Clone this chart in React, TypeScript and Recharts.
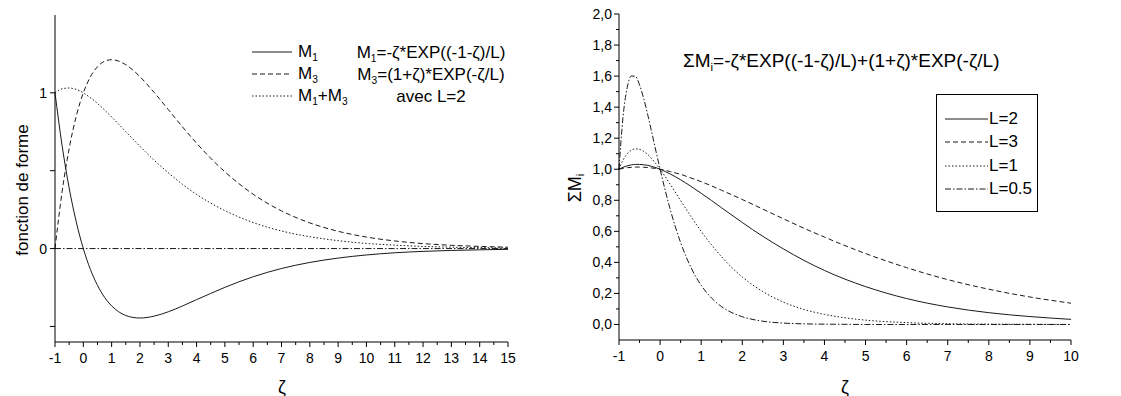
import { LineChart, Line, XAxis, YAxis, ReferenceLine, Legend } from 'recharts';

// left chart: shape functions for L=2
const zetaLeft = [-1, -0.75, -0.5, -0.25, 0, 0.25, 0.5, 0.75, 1, 1.25, 1.5, 1.75, 2, 2.5, 3, 3.5, 4, 4.5, 5, 6, 7, 8, 9, 10, 11, 12, 13, 14, 15];
const m1Values = [1, 0.662, 0.389, 0.172, 0, -0.134, -0.236, -0.313, -0.368, -0.406, -0.43, -0.442, -0.446, -0.434, -0.406, -0.369, -0.328, -0.288, -0.249, -0.181, -0.128, -0.089, -0.061, -0.041, -0.027, -0.018, -0.012, -0.008, -0.005];
const m3Values = [0, 0.364, 0.642, 0.85, 1, 1.103, 1.168, 1.203, 1.213, 1.204, 1.181, 1.147, 1.104, 1.003, 0.893, 0.782, 0.677, 0.58, 0.493, 0.349, 0.242, 0.165, 0.111, 0.074, 0.049, 0.032, 0.021, 0.014, 0.009];
const sumValues = [1, 1.026, 1.031, 1.022, 1, 0.969, 0.932, 0.89, 0.845, 0.799, 0.751, 0.704, 0.657, 0.568, 0.487, 0.413, 0.348, 0.292, 0.244, 0.167, 0.113, 0.076, 0.051, 0.033, 0.022, 0.014, 0.009, 0.006, 0.004];

// right chart: sum of shape functions for several L
const zetaRight = [-1, -0.9, -0.8, -0.7, -0.6, -0.5, -0.4, -0.3, -0.2, -0.1, 0, 0.25, 0.5, 0.75, 1, 1.25, 1.5, 1.75, 2, 2.5, 3, 3.5, 4, 4.5, 5, 6, 7, 8, 9, 10];
const sumL2 = [1, 1.013, 1.022, 1.028, 1.031, 1.031, 1.029, 1.025, 1.018, 1.01, 1, 0.969, 0.932, 0.89, 0.845, 0.799, 0.751, 0.704, 0.657, 0.568, 0.487, 0.413, 0.348, 0.292, 0.244, 0.167, 0.113, 0.076, 0.051, 0.033];
const sumL3 = [1, 1.006, 1.01, 1.012, 1.014, 1.014, 1.013, 1.011, 1.008, 1.005, 1, 0.985, 0.967, 0.944, 0.92, 0.893, 0.864, 0.835, 0.805, 0.743, 0.681, 0.62, 0.563, 0.508, 0.457, 0.366, 0.289, 0.227, 0.177, 0.137];
const sumL1 = [1, 1.06, 1.1, 1.123, 1.131, 1.128, 1.115, 1.094, 1.067, 1.035, 1, 0.902, 0.798, 0.696, 0.6, 0.513, 0.435, 0.366, 0.306, 0.212, 0.144, 0.097, 0.065, 0.043, 0.028, 0.012, 0.005, 0.002, 0.001, 0];
const sumL05 = [1, 1.342, 1.527, 1.601, 1.598, 1.543, 1.456, 1.35, 1.234, 1.116, 1, 0.738, 0.527, 0.368, 0.252, 0.171, 0.114, 0.076, 0.05, 0.021, 0.009, 0.004, 0.002, 0.001, 0, 0, 0, 0, 0, 0];

// tick positions
const leftXTicks = [-1, -0.5, 0, 0.5, 1, 1.5, 2, 2.5, 3, 3.5, 4, 4.5, 5, 5.5, 6, 6.5, 7, 7.5, 8, 8.5, 9, 9.5, 10, 10.5, 11, 11.5, 12, 12.5, 13, 13.5, 14, 14.5, 15];
const leftYTicks = [-0.5, 0, 0.5, 1];
const leftYLabels = [0, 1];
const rightXTicks = [-1, -0.5, 0, 0.5, 1, 1.5, 2, 2.5, 3, 3.5, 4, 4.5, 5, 5.5, 6, 6.5, 7, 7.5, 8, 8.5, 9, 9.5, 10];
const rightYTicks = [0, 0.1, 0.2, 0.3, 0.4, 0.5, 0.6, 0.7, 0.8, 0.9, 1, 1.1, 1.2, 1.3, 1.4, 1.5, 1.6, 1.7, 1.8, 1.9, 2];

const leftData = zetaLeft.map((z, i) => ({ z, m1: m1Values[i], m3: m3Values[i], sum: sumValues[i] }));
const rightData = zetaRight.map((z, i) => ({ z, l2: sumL2[i], l3: sumL3[i], l1: sumL1[i], l05: sumL05[i] }));

const INK = '#1a1a1a';
const FONT = '"Liberation Sans", Arial, sans-serif';
const TICK_FONT = 14;
const DASHED = '5 3';
const DOTTED = '1.5 2';
const DASHDOT = '6 2 1.5 2';

const sub = (s: string) => <sub style={{ fontSize: '0.6em', verticalAlign: '-0.35em', lineHeight: 0 }}>{s}</sub>;

const leftSeries = [
  { key: 'm1', dash: undefined, label: <>M{sub('1')}</> },
  { key: 'm3', dash: DASHED, label: <>M{sub('3')}</> },
  { key: 'sum', dash: DOTTED, label: <>M{sub('1')}+M{sub('3')}</> },
];

const rightSeries = [
  { key: 'l2', dash: undefined, label: 'L=2' },
  { key: 'l3', dash: DASHED, label: 'L=3' },
  { key: 'l1', dash: DOTTED, label: 'L=1' },
  { key: 'l05', dash: DASHDOT, label: 'L=0.5' },
];

const isMajor = (v: number) => Math.abs(v - Math.round(v)) < 1e-6;

function XTick(props: any) {
  const { x, y, payload } = props;
  const major = isMajor(payload.value);
  return (
    <g>
      <line x1={x} y1={y} x2={x} y2={y + (major ? 5 : 3)} stroke="#000" />
      {major && (
        <text x={x} y={y + 21} textAnchor="middle" fontSize={TICK_FONT} fontFamily={FONT} fill="#000">
          {Math.round(payload.value)}
        </text>
      )}
    </g>
  );
}

function LeftYTick(props: any) {
  const { x, y, payload } = props;
  const v = payload.value;
  return (
    <g>
      <line x1={x} y1={y} x2={x - 5} y2={y} stroke="#000" />
      {leftYLabels.includes(v) && (
        <text x={x - 8} y={y + 5} textAnchor="end" fontSize={TICK_FONT} fontFamily={FONT} fill="#000">
          {v}
        </text>
      )}
    </g>
  );
}

function RightYTick(props: any) {
  const { x, y, payload } = props;
  const v = payload.value;
  const major = Math.round(v * 10) % 2 === 0;
  return (
    <g>
      <line x1={x} y1={y} x2={x - (major ? 5 : 3)} y2={y} stroke="#000" />
      {major && (
        <text x={x - 7} y={y + 5} textAnchor="end" fontSize={TICK_FONT} fontFamily={FONT} fill="#000">
          {v.toFixed(1).replace('.', ',')}
        </text>
      )}
    </g>
  );
}

function LeftLegend() {
  return (
    <div style={{ fontFamily: FONT, fontSize: 17, color: '#000' }}>
      {leftSeries.map(s => (
        <div key={s.key} style={{ display: 'flex', alignItems: 'center', height: 22 }}>
          <svg width={40} height={10}>
            <line x1={0} y1={5} x2={40} y2={5} stroke={INK} strokeDasharray={s.dash} />
          </svg>
          <span style={{ marginLeft: 6 }}>{s.label}</span>
        </div>
      ))}
    </div>
  );
}

function RightLegend() {
  return (
    <div style={{ fontFamily: FONT, fontSize: 17, color: '#000', border: '1px solid #000', width: 102, height: 118, padding: '12px 0 0 8px', boxSizing: 'border-box' }}>
      {rightSeries.map(s => (
        <div key={s.key} style={{ display: 'flex', alignItems: 'center', height: 23.5 }}>
          <svg width={43} height={10}>
            <line x1={0} y1={5} x2={43} y2={5} stroke={INK} strokeDasharray={s.dash} />
          </svg>
          <span style={{ marginLeft: 1 }}>{s.label}</span>
        </div>
      ))}
    </div>
  );
}

const textStyle = { position: 'absolute' as const, fontFamily: FONT, color: '#000', whiteSpace: 'nowrap' as const };

export default function App() {
  return (
    <div style={{ position: 'absolute', left: 0, top: 0, width: 1121, height: 396, background: '#fff', overflow: 'hidden' }}>
      {/* left chart */}
      <div style={{ position: 'absolute', left: 0, top: 0 }}>
        <LineChart width={560} height={396} data={leftData} margin={{ top: 15, right: 52, bottom: 0, left: 0 }}>
          <XAxis dataKey="z" type="number" domain={[-1, 15]} ticks={leftXTicks} interval={0} height={54}
            axisLine={{ stroke: '#000' }} tickLine={false} tickSize={0} tickMargin={0} tick={<XTick />} />
          <YAxis type="number" domain={[-0.6, 1.5]} ticks={leftYTicks} interval={0} width={55}
            axisLine={{ stroke: '#000' }} tickLine={false} tickSize={0} tickMargin={0} tick={<LeftYTick />} />
          <ReferenceLine y={0} stroke={INK} strokeDasharray={DASHDOT} />
          <Line type="monotone" dataKey="m1" stroke={INK} strokeWidth={1} dot={false} isAnimationActive={false} />
          <Line type="monotone" dataKey="m3" stroke={INK} strokeWidth={1} strokeDasharray={DASHED} dot={false} isAnimationActive={false} />
          <Line type="monotone" dataKey="sum" stroke={INK} strokeWidth={1} strokeDasharray={DOTTED} dot={false} isAnimationActive={false} />
          <Legend layout="horizontal" verticalAlign="middle" align="center" content={<LeftLegend />}
            wrapperStyle={{ left: 252, top: 41, width: 120 }} />
        </LineChart>
      </div>

      {/* right chart */}
      <div style={{ position: 'absolute', left: 560, top: 0 }}>
        <LineChart width={561} height={396} data={rightData} margin={{ top: 14, right: 50, bottom: 0, left: 0 }}>
          <XAxis dataKey="z" type="number" domain={[-1, 10]} ticks={rightXTicks} interval={0} height={56}
            axisLine={{ stroke: '#000' }} tickLine={false} tickSize={0} tickMargin={0} tick={<XTick />} />
          <YAxis type="number" domain={[-0.1, 2]} ticks={rightYTicks} interval={0} width={59}
            axisLine={{ stroke: '#000' }} tickLine={false} tickSize={0} tickMargin={0} tick={<RightYTick />} />
          <Line type="monotone" dataKey="l2" stroke={INK} strokeWidth={1} dot={false} isAnimationActive={false} />
          <Line type="monotone" dataKey="l3" stroke={INK} strokeWidth={1} strokeDasharray={DASHED} dot={false} isAnimationActive={false} />
          <Line type="monotone" dataKey="l1" stroke={INK} strokeWidth={1} strokeDasharray={DOTTED} dot={false} isAnimationActive={false} />
          <Line type="monotone" dataKey="l05" stroke={INK} strokeWidth={1} strokeDasharray={DASHDOT} dot={false} isAnimationActive={false} />
          <Legend layout="horizontal" verticalAlign="middle" align="center" content={<RightLegend />}
            wrapperStyle={{ left: 376, top: 94, width: 102 }} />
        </LineChart>
      </div>

      {/* formulas */}
      <div style={{ ...textStyle, left: 431, top: 42, transform: 'translateX(-50%)', fontSize: 17, lineHeight: '22px', textAlign: 'center' }}>
        <div>M{sub('1')}=-ζ*EXP((-1-ζ)/L)</div>
        <div>M{sub('3')}=(1+ζ)*EXP(-ζ/L)</div>
        <div>avec L=2</div>
      </div>
      <div style={{ ...textStyle, left: 683, top: 50, fontSize: 19 }}>
        ΣM{sub('i')}=-ζ*EXP((-1-ζ)/L)+(1+ζ)*EXP(-ζ/L)
      </div>

      {/* axis titles */}
      <div style={{ ...textStyle, left: 23, top: 190, fontSize: 17, transform: 'translate(-50%, -50%) rotate(-90deg)' }}>
        fonction de forme
      </div>
      <div style={{ ...textStyle, left: 575, top: 188, fontSize: 18, transform: 'translate(-50%, -50%) rotate(-90deg)' }}>
        ΣM{sub('i')}
      </div>
      <div style={{ ...textStyle, left: 282, top: 387, fontSize: 18, transform: 'translate(-50%, -50%)' }}>ζ</div>
      <div style={{ ...textStyle, left: 845, top: 387, fontSize: 18, transform: 'translate(-50%, -50%)' }}>ζ</div>
    </div>
  );
}
